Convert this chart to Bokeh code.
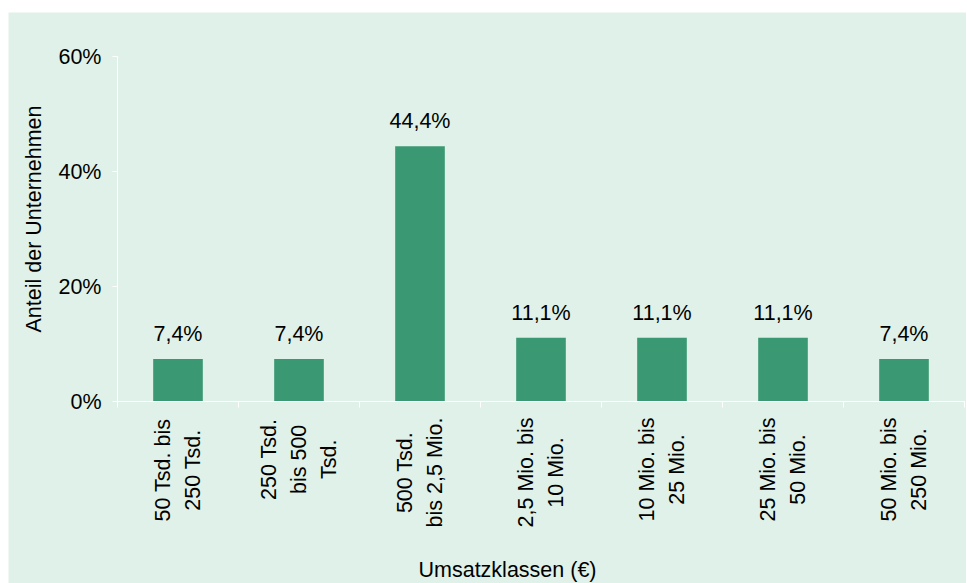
import math
from bokeh.plotting import figure
from bokeh.models import ColumnDataSource, FixedTicker, LabelSet, Label, PrintfTickFormatter, Range1d
from bokeh.core.properties import value
from bokeh.embed import file_html
from bokeh.resources import INLINE

categories = [
    "50 Tsd. bis\n250 Tsd.",
    "250 Tsd.\nbis 500\nTsd.",
    "500 Tsd.\nbis 2,5 Mio.",
    "2,5 Mio. bis\n10 Mio.",
    "10 Mio. bis\n25 Mio.",
    "25 Mio. bis\n50 Mio.",
    "50 Mio. bis\n250 Mio.",
]
values = [7.4, 7.4, 44.4, 11.1, 11.1, 11.1, 7.4]
y_ticks = [0, 20, 40, 60]
x_title = "Umsatzklassen (€)"
y_title = "Anteil der Unternehmen"

BG = "#DFF1E8"
BAR = "#3A9872"
FONT = "Liberation Sans"
FS = 21.5
FSS = f"{FS}px"

# Liberation Sans / Arial advance widths (1/1000 em), used to centre the
# multi-line rotated category labels the way the original chart does.
ADV = {" ": 278, ".": 278, ",": 278, "T": 611, "s": 500, "d": 556, "b": 556,
       "i": 222, "M": 833, "o": 556}


def text_width(s):
    return sum(ADV.get(ch, 556) for ch in s) * FS / 1000.0


n = len(categories)
centers = [i + 0.5 for i in range(n)]
bounds = list(range(n + 1))
labels = [f"{v:.1f}".replace(".", ",") + "%" for v in values]
y_max = y_ticks[-1]

# layout (pixels): canvas 958 x 571; plot area inside it
W, H = 958, 571
PL, PR, PT, PB = 109, 2, 44, 182        # margins around the data area
data_w = W - PL - PR
data_h = H - PT - PB
ux = data_w / n
uy = data_h / y_max
x_range = Range1d(-PL / ux, n + PR / ux)
y_range = Range1d(-PB / uy, y_max + PT / uy)

src = ColumnDataSource(dict(x=centers, top=values, lab=labels))

# per-line category label source
LINE_STEP = 30
GAP = 16
cx, cxo, cyo, ct = [], [], [], []
for c, cat in zip(centers, categories):
    lines = cat.split("\n")
    lmax = max(text_width(s) for s in lines)
    k = len(lines)
    for j, s in enumerate(lines):
        cx.append(c)
        cxo.append((j - (k - 1) / 2) * LINE_STEP)
        cyo.append(-(GAP + lmax / 2))
        ct.append(s)
cat_src = ColumnDataSource(dict(x=cx, y=[0] * len(cx), xo=cxo, yo=cyo, t=ct))

p = figure(width=W, height=H, output_backend="svg", toolbar_location=None,
           x_range=x_range, y_range=y_range, min_border=0)
p.margin = (12, 0, 0, 8)
p.background_fill_color = BG
p.border_fill_color = BG
p.outline_line_color = None
p.grid.visible = False

p.vbar(x="x", top="top", width=0.41, source=src, color=BAR, line_color=None)

p.add_layout(LabelSet(x="x", y="top", text="lab", source=src, text_align="center",
                      text_baseline="alphabetic", y_offset=18, text_font=value(FONT),
                      text_font_size=FSS, text_color="#000000"))

p.add_layout(LabelSet(x="x", y="y", x_offset="xo", y_offset="yo", text="t", source=cat_src,
                      angle=math.pi / 2, text_align="center", text_baseline="middle",
                      text_font=value(FONT), text_font_size=FSS, text_color="#000000"))

p.add_layout(Label(x=n / 2, y=0, x_offset=-33.5, y_offset=-168, text=x_title,
                   text_align="center", text_baseline="middle", text_font=FONT,
                   text_font_size=FSS, text_color="#000000"))
p.add_layout(Label(x=0, y=y_max / 2, x_offset=-84, y_offset=10, text=y_title, angle=math.pi / 2,
                   text_align="center", text_baseline="middle", text_font=FONT,
                   text_font_size=FSS, text_color="#000000"))

xa = p.xaxis[0]
xa.fixed_location = 0
xa.bounds = (0, n)
xa.ticker = FixedTicker(ticks=centers, minor_ticks=bounds)
xa.major_label_overrides = {c: "" for c in centers}
xa.major_tick_line_color = None
xa.major_tick_out = 0
xa.minor_tick_line_color = "white"
xa.minor_tick_out = 6
xa.minor_tick_in = 0
xa.axis_line_color = "white"
xa.axis_line_width = 1

ya = p.yaxis[0]
ya.fixed_location = 0
ya.bounds = (0, y_max)
ya.ticker = FixedTicker(ticks=y_ticks, minor_ticks=[])
ya.formatter = PrintfTickFormatter(format="%d%%")
ya.axis_line_color = "white"
ya.major_tick_line_color = "white"
ya.major_tick_out = 5
ya.major_tick_in = 0
ya.minor_tick_line_color = None
ya.major_label_standoff = 11
ya.major_label_text_font = FONT
ya.major_label_text_font_size = FSS
ya.major_label_text_color = "#000000"

open("out.html", "w").write(file_html(p, INLINE))
